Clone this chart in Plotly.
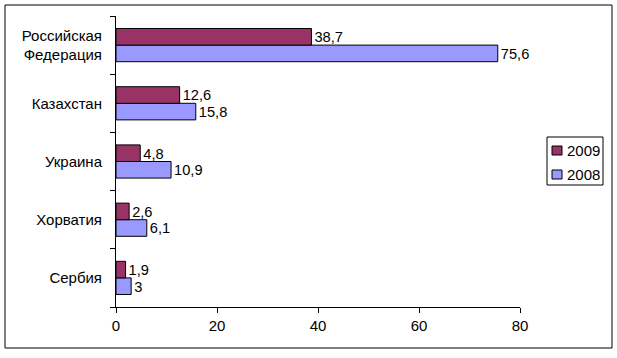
import plotly.graph_objects as go

countries = ["Сербия", "Хорватия", "Украина", "Казахстан", "Российская<br>Федерация"]
values_2008 = [3, 6.1, 10.9, 15.8, 75.6]
values_2009 = [1.9, 2.6, 4.8, 12.6, 38.7]
series_names = ["2009", "2008"]
x_ticks = [0, 20, 40, 60, 80]

COLOR_2009 = "#993366"
COLOR_2008 = "#9999FF"


def fmt(v):
    return str(v).replace(".", ",")


FONT = dict(family="Liberation Sans, Arial, sans-serif", size=15, color="black")

fig = go.Figure()
fig.add_trace(go.Bar(
    y=countries, x=values_2008, name=series_names[1], orientation="h",
    marker=dict(color=COLOR_2008, line=dict(color="black", width=1)),
    text=[fmt(v) for v in values_2008], textposition="outside",
    textfont=FONT, cliponaxis=False, showlegend=False,
))
fig.add_trace(go.Bar(
    y=countries, x=values_2009, name=series_names[0], orientation="h",
    marker=dict(color=COLOR_2009, line=dict(color="black", width=1)),
    text=[fmt(v) for v in values_2009], textposition="outside",
    textfont=FONT, cliponaxis=False, showlegend=False,
))

L, R, T, B = 116, 520, 16, 307
W, H = 617, 358
pw, ph = R - L, B - T


def px(x):
    return (x - L) / pw


def py(y):
    return (B - y) / ph


shapes = [dict(
    type="rect", xref="paper", yref="paper",
    x0=px(5), x1=px(612), y0=py(348), y1=py(5),
    line=dict(color="black", width=1), fillcolor="rgba(0,0,0,0)", layer="below",
)]
# legend box
shapes.append(dict(
    type="rect", xref="paper", yref="paper",
    x0=px(547), x1=px(603), y0=py(185), y1=py(137),
    line=dict(color="black", width=1), fillcolor="white", layer="above",
))
annotations = []
legend_rows = [(series_names[0], COLOR_2009, 150.5), (series_names[1], COLOR_2008, 174.5)]
for name, color, yc in legend_rows:
    shapes.append(dict(
        type="rect", xref="paper", yref="paper",
        x0=px(552), x1=px(562), y0=py(yc + 4.5), y1=py(yc - 4.5),
        line=dict(color="black", width=1), fillcolor=color, layer="above",
    ))
    annotations.append(dict(
        xref="paper", yref="paper", x=px(565), y=py(yc),
        xanchor="left", yanchor="middle", text=name, showarrow=False,
        font=FONT,
    ))

fig.update_layout(
    width=W, height=H,
    margin=dict(l=L, r=W - R, t=T, b=H - B, pad=0, autoexpand=False),
    paper_bgcolor="white", plot_bgcolor="white",
    font=FONT,
    barmode="group", bargap=0.43, bargroupgap=0,
    showlegend=False,
    xaxis=dict(
        range=[0, 80], tickvals=x_ticks, ticktext=[str(t) for t in x_ticks],
        showgrid=False, zeroline=False, showline=True, linecolor="black", linewidth=1,
        ticks="outside", ticklen=5, tickcolor="black", tickfont=FONT, fixedrange=True,
        automargin=False,
    ),
    yaxis=dict(
        categoryorder="array", categoryarray=countries,
        showgrid=False, zeroline=False, showline=True, linecolor="black", linewidth=1,
        ticks="outside", ticklen=5, tickcolor="black", tickson="boundaries",
        tickfont=FONT, fixedrange=True, automargin=False, ticklabelstandoff=10,
    ),
    shapes=shapes,
    annotations=annotations,
)

fig.write_html(
    "out.html",
    config={"displayModeBar": False},
    post_script="document.body.style.margin='0';document.body.style.overflow='hidden';",
)
